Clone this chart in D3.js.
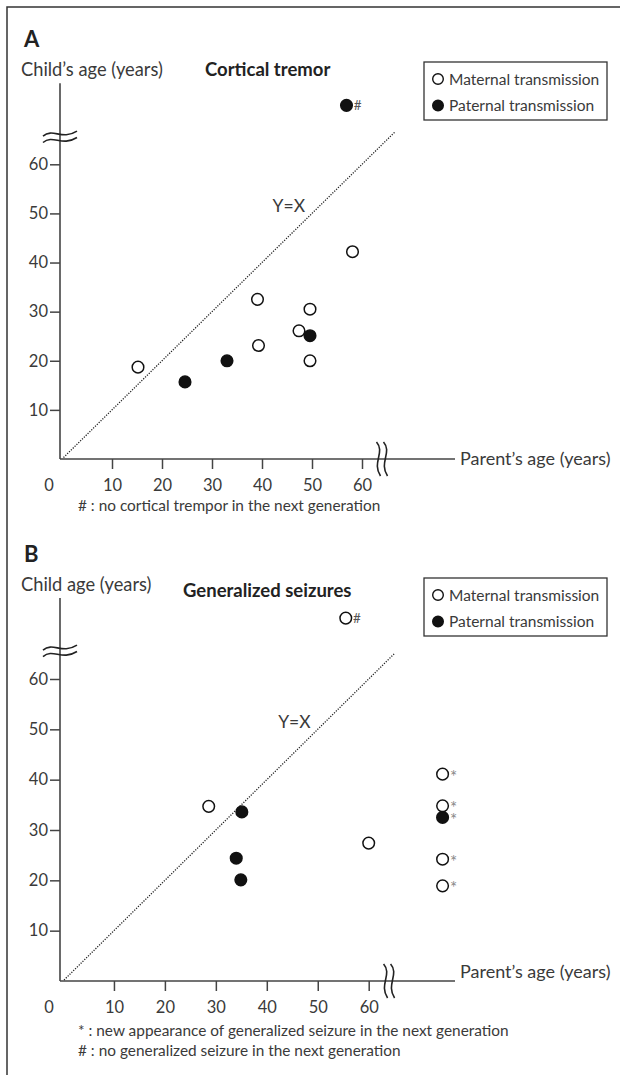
<!DOCTYPE html>
<html><head><meta charset="utf-8">
<script src="https://cdn.jsdelivr.net/npm/d3@7"></script>
<style>
body{margin:0;background:#fff}
svg{display:block;font-family:Lato,"Open Sans",sans-serif}
</style></head><body>
<svg id="c" width="620" height="1075"></svg>
<script>
// ---------- data ----------
const xTickValues = [10, 20, 30, 40, 50, 60];
const yTickValues = [10, 20, 30, 40, 50, 60];
const originLabel = "0";
const legendKeys = ["maternal", "paternal"];
const legendLabels = ["Maternal transmission", "Paternal transmission"];

// Panel A: cortical tremor
const tremorParentAge = [15.2, 24.6, 33.0, 39.1, 39.3, 47.4, 49.6, 49.6, 49.6, 58.1, 56.9];
const tremorChildAge  = [18.7, 15.7, 20.0, 32.5, 23.1, 26.1, 25.1, 30.5, 20.0, 42.2, 72.0];
const tremorTransmission = ["maternal","paternal","paternal","maternal","maternal","maternal","paternal","maternal","maternal","maternal","paternal"];
const tremorMark = ["","","","","","","","","","","#"];
const tremorIdentity = [0.3, 66.5];
const tremorNotes = ["# : no cortical trempor in the next generation"];

// Panel B: generalized seizures
const seizureParentAge = [28.6, 35.1, 34.0, 34.9, 60.0, 74.5, 74.5, 74.5, 74.5, 74.5, 55.5];
const seizureChildAge  = [34.7, 33.6, 24.4, 20.1, 27.4, 41.1, 34.8, 32.5, 24.2, 18.9, 72.1];
const seizureTransmission = ["maternal","paternal","paternal","paternal","maternal","maternal","maternal","paternal","maternal","maternal","maternal"];
const seizureMark = ["","","","","","*","*","*","*","*","#"];
const seizureIdentity = [0.2, 65];
const seizureNotes = ["* : new appearance of generalized seizure in the next generation",
                      "# : no generalized seizure in the next generation"];

// ---------- drawing ----------
const svg = d3.select("#c");
const TXT = "#3a3a3a", AX = "#444";

// frame
svg.append("path").attr("d", "M7,1075 L7,7 L620,7").attr("fill", "none")
  .attr("stroke", "#333").attr("stroke-width", 1.5);

function panel(o) {
  const g = svg.append("g");
  const x = d3.scaleLinear().domain([0, 60]).range(o.xr);
  const y = d3.scaleLinear().domain([0, 60]).range(o.yr);
  const axisY = y(0), axisX = 60;

  // letter, labels, title
  g.append("text").attr("x", 24).attr("y", o.letterY).text(o.letter)
    .attr("font-size", 22).attr("font-weight", 700).attr("fill", "#222");
  g.append("text").attr("x", 21).attr("y", o.ylabY).text(o.ylab)
    .attr("font-size", 18.3).attr("fill", TXT);
  g.append("text").attr("x", o.titleX).attr("y", o.titleY).text(o.title)
    .attr("font-size", 18.5).attr("font-weight", 700).attr("fill", "#222");

  // legend
  const lg = g.append("g");
  lg.append("rect").attr("x", 424).attr("y", o.legY).attr("width", 183).attr("height", 58)
    .attr("fill", "#fff").attr("stroke", "#333").attr("stroke-width", 1.3);
  legendKeys.forEach((k, i) => {
    const cy = o.legY + 17 + i * 26.5;
    lg.append("circle").attr("cx", 438).attr("cy", cy).attr("r", 5.3)
      .attr("fill", k === "paternal" ? "#111" : "#fff").attr("stroke", "#111").attr("stroke-width", 1.4);
    lg.append("text").attr("x", 449).attr("y", cy + 5.5).text(legendLabels[i])
      .attr("font-size", 15.5).attr("fill", TXT);
  });

  // y axis
  const ya = g.append("g").attr("transform", `translate(${axisX},0)`)
    .call(d3.axisLeft(y).tickValues(yTickValues).tickSize(10).tickPadding(2));
  ya.select(".domain").remove();
  ya.selectAll("line").attr("stroke", AX).attr("stroke-width", 1.5);
  ya.selectAll("text").attr("font-size", 16.5).attr("fill", TXT).attr("font-family", "Lato");
  g.append("line").attr("x1", axisX).attr("x2", axisX).attr("y1", axisY).attr("y2", y(60) - 81)
    .attr("stroke", AX).attr("stroke-width", 1.6);

  // x axis
  const xa = g.append("g").attr("transform", `translate(0,${axisY})`)
    .call(d3.axisBottom(x).tickValues(xTickValues).tickSize(10).tickPadding(10.5));
  xa.select(".domain").remove();
  xa.selectAll("line").attr("stroke", AX).attr("stroke-width", 1.5);
  xa.selectAll("text").attr("font-size", 16.5).attr("fill", TXT).attr("font-family", "Lato");
  g.append("line").attr("x1", axisX).attr("x2", 455).attr("y1", axisY).attr("y2", axisY)
    .attr("stroke", AX).attr("stroke-width", 1.6);
  g.append("text").attr("x", 49).attr("y", axisY + 32).attr("text-anchor", "middle")
    .text(originLabel).attr("font-size", 16.5).attr("fill", TXT);
  g.append("text").attr("x", 460).attr("y", axisY + o.xlabDy).text("Parent’s age (years)")
    .attr("font-size", 18).attr("fill", TXT);

  // y break (≈)
  const by = y(65.6);
  [-3.2, 3.2].forEach(d => {
    const yy = by + d, x0 = axisX - 17, w = 34;
    g.append("path")
      .attr("d", `M${x0},${yy + 2.5} C${x0 + w * 0.3},${yy - 6} ${x0 + w * 0.55},${yy + 7} ${x0 + w},${yy - 2.5}`)
      .attr("fill", "none").attr("stroke", "#222").attr("stroke-width", 1.6);
  });
  // x break
  const bx = x(64);
  [-3.5, 3.5].forEach(d => {
    const xx = bx + d, y0 = axisY - 17, h = 34;
    g.append("path")
      .attr("d", `M${xx - 2},${y0} C${xx + 7},${y0 + h * 0.3} ${xx - 7},${y0 + h * 0.6} ${xx + 2},${y0 + h}`)
      .attr("fill", "none").attr("stroke", "#222").attr("stroke-width", 1.6);
  });

  // identity line
  g.append("line").attr("x1", x(o.ident[0])).attr("y1", y(o.ident[0]))
    .attr("x2", x(o.ident[1])).attr("y2", y(o.ident[1]))
    .attr("stroke", "#222").attr("stroke-width", 1.3).attr("stroke-dasharray", "1.2,1.4");
  g.append("text").attr("x", x(48.6)).attr("y", y(50.2)).attr("text-anchor", "end")
    .text("Y=X").attr("font-size", 17.5).attr("fill", TXT);

  // points
  const pts = o.px.map((v, i) => ({ px: v, cy: o.py[i], t: o.tr[i], m: o.mk[i] }));
  g.selectAll("circle.pt").data(pts).join("circle").attr("class", "pt")
    .attr("cx", d => x(d.px)).attr("cy", d => y(d.cy)).attr("r", 5.8)
    .attr("fill", d => d.t === "paternal" ? "#111" : "#fff")
    .attr("stroke", "#111").attr("stroke-width", 1.5);
  g.selectAll("text.mk").data(pts.filter(d => d.m)).join("text").attr("class", "mk")
    .attr("x", d => x(d.px) + 7.3).attr("y", d => y(d.cy) + (d.m === "*" ? 8.5 : 4.8))
    .text(d => d.m).attr("font-size", d => d.m === "*" ? 17 : 13.5)
    .attr("fill", d => d.m === "*" ? "#888" : "#555");

  // footnotes
  o.notes.forEach((n, i) => {
    g.append("text").attr("x", 78).attr("y", axisY + o.noteDy + i * 19.5).text(n)
      .attr("font-size", 15.4).attr("fill", TXT);
  });
}

panel({
  letter: "A", letterY: 47, ylab: "Child’s age (years)", ylabY: 76,
  title: "Cortical tremor", titleX: 205, titleY: 76, legY: 62,
  xr: [62, 362], yr: [459, 164.3], xlabDy: 6, noteDy: 51.5,
  px: tremorParentAge, py: tremorChildAge, tr: tremorTransmission, mk: tremorMark,
  ident: tremorIdentity, notes: tremorNotes
});
panel({
  letter: "B", letterY: 562, ylab: "Child age (years)", ylabY: 591,
  title: "Generalized seizures", titleX: 183, titleY: 597, legY: 578,
  xr: [63, 368.7], yr: [981, 679], xlabDy: -3.5, noteDy: 55,
  px: seizureParentAge, py: seizureChildAge, tr: seizureTransmission, mk: seizureMark,
  ident: seizureIdentity, notes: seizureNotes
});
</script>
</body></html>
